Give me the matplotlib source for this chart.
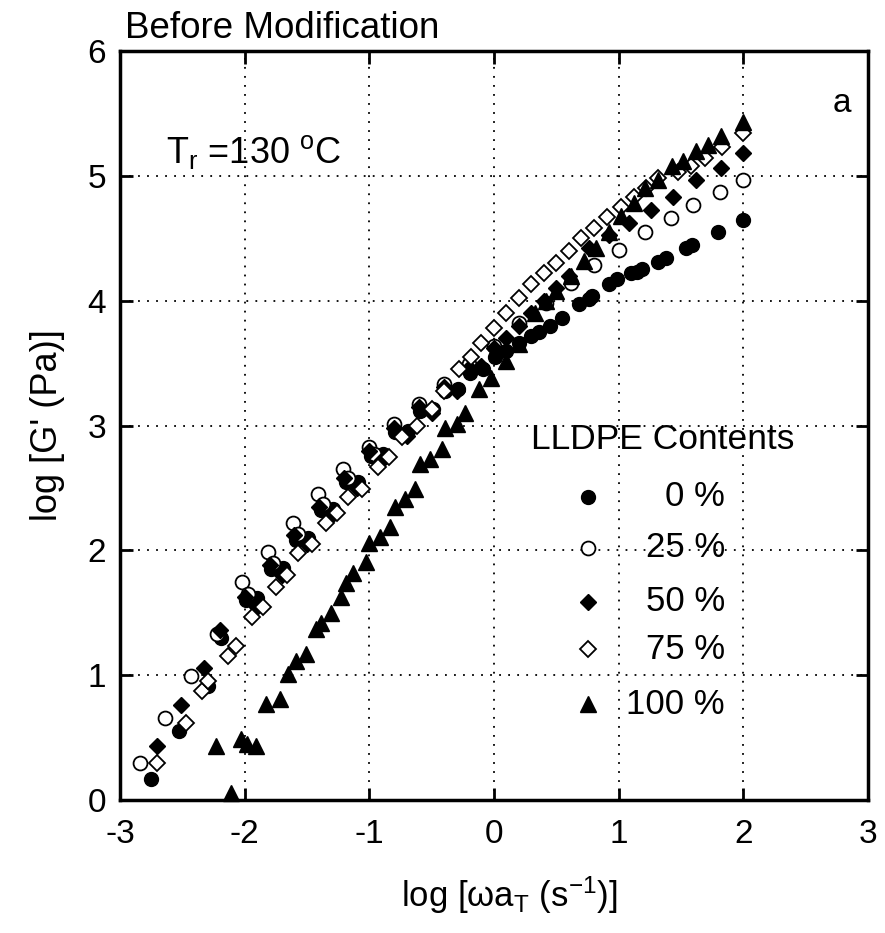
import matplotlib
matplotlib.use("Agg")
import matplotlib.pyplot as plt

plt.rcParams['font.family'] = ['Liberation Sans', 'DejaVu Sans']
plt.rcParams['mathtext.fontset'] = 'custom'
plt.rcParams['mathtext.rm'] = 'Liberation Sans'
plt.rcParams['mathtext.it'] = 'Liberation Sans'
plt.rcParams['axes.unicode_minus'] = False

# ---- data (log omega aT, log G') ----
x0 = [-2.75, -2.53, -2.29, -2.19, -1.99, -1.9, -1.79, -1.69, -1.59, -1.49, -1.39, -1.29,
      -1.19, -1.09, -0.99, -0.89, -0.79, -0.69, -0.59, -0.49, -0.39, -0.29, -0.19, -0.09,
      0.01, 0.1, 0.2, 0.3, 0.36, 0.45, 0.55, 0.68, 0.76, 0.79, 0.92, 0.99, 1.10, 1.15,
      1.19, 1.32, 1.38, 1.54, 1.59, 1.80, 2.0]
y0 = [0.17, 0.55, 0.91, 1.30, 1.60, 1.62, 1.85, 1.86, 2.08, 2.10, 2.32, 2.33,
      2.55, 2.55, 2.76, 2.77, 2.95, 2.96, 3.12, 3.13, 3.28, 3.29, 3.42, 3.45,
      3.55, 3.60, 3.66, 3.72, 3.75, 3.80, 3.86, 3.97, 4.01, 4.04, 4.13, 4.17, 4.22, 4.23,
      4.25, 4.31, 4.34, 4.42, 4.45, 4.55, 4.65]

x25 = [-2.84, -2.64, -2.43, -2.22, -2.02, -1.97, -1.81, -1.77, -1.61, -1.57, -1.41, -1.37,
       -1.21, -1.17, -1.0, -0.96, -0.8, -0.6, -0.4, -0.2, 0.0, 0.2, 0.42, 0.62, 0.8, 1.0,
       1.21, 1.42, 1.6, 1.81, 2.0]
y25 = [0.30, 0.66, 0.99, 1.33, 1.75, 1.65, 1.99, 1.90, 2.22, 2.13, 2.45, 2.37,
       2.65, 2.58, 2.83, 2.77, 3.01, 3.17, 3.33, 3.49, 3.64, 3.82, 3.98, 4.14, 4.29, 4.41,
       4.55, 4.66, 4.77, 4.87, 4.97]

x50 = [-2.70, -2.51, -2.33, -2.2, -2.0, -1.9, -1.8, -1.7, -1.6, -1.5, -1.4, -1.3, -1.2,
       -1.1, -1.0, -0.9, -0.8, -0.7, -0.6, -0.5, -0.4, -0.3, -0.2, -0.1, 0.0, 0.1, 0.2,
       0.3, 0.4, 0.5, 0.6, 0.76, 0.92, 1.08, 1.26, 1.44, 1.62, 1.82, 2.0]
y50 = [0.43, 0.76, 1.06, 1.36, 1.63, 1.55, 1.88, 1.80, 2.12, 2.05, 2.35, 2.28, 2.58,
       2.50, 2.80, 2.72, 2.98, 2.92, 3.15, 3.10, 3.31, 3.28, 3.46, 3.48, 3.62, 3.70, 3.80,
       3.90, 4.00, 4.10, 4.20, 4.42, 4.53, 4.62, 4.73, 4.83, 4.97, 5.06, 5.18]

x75 = [-2.70, -2.47, -2.34, -2.29, -2.13, -2.07, -1.94, -1.85, -1.75, -1.66, -1.57, -1.46,
       -1.35, -1.26, -1.17, -1.06, -0.93, -0.84, -0.74, -0.62, -0.5, -0.4, -0.28, -0.18,
       -0.1, 0.0, 0.1, 0.2, 0.3, 0.4, 0.5, 0.6, 0.7, 0.8, 0.91, 1.02, 1.12, 1.22, 1.32,
       1.48, 1.58, 1.69, 1.83, 2.0]
y75 = [0.30, 0.62, 0.87, 0.95, 1.15, 1.23, 1.47, 1.55, 1.71, 1.80, 1.98, 2.05,
       2.22, 2.30, 2.43, 2.49, 2.67, 2.75, 2.91, 3.00, 3.13, 3.28, 3.45, 3.55,
       3.66, 3.78, 3.90, 4.02, 4.13, 4.22, 4.30, 4.40, 4.50, 4.58, 4.67, 4.75, 4.83, 4.90,
       4.98, 5.03, 5.08, 5.14, 5.23, 5.34]

x100 = [-2.11, -2.23, -2.03, -1.98, -1.91, -1.83, -1.72, -1.65, -1.59, -1.51, -1.43, -1.39,
        -1.31, -1.23, -1.19, -1.13, -1.03, -1.0, -0.91, -0.83, -0.79, -0.71, -0.63, -0.59,
        -0.51, -0.42, -0.39, -0.30, -0.23, -0.12, -0.02, 0.1, 0.2, 0.33, 0.42, 0.5, 0.62,
        0.72, 0.82, 0.92, 1.02, 1.12, 1.21, 1.32, 1.43, 1.52, 1.62, 1.72, 1.82, 2.0]
y100 = [0.06, 0.43, 0.49, 0.45, 0.43, 0.77, 0.81, 1.01, 1.11, 1.17, 1.37, 1.42,
        1.50, 1.63, 1.74, 1.82, 1.91, 2.06, 2.11, 2.19, 2.35, 2.41, 2.49, 2.69,
        2.73, 2.81, 2.98, 3.01, 3.10, 3.29, 3.38, 3.52, 3.65, 3.90, 4.00, 4.08, 4.20,
        4.32, 4.42, 4.55, 4.68, 4.78, 4.90, 4.97, 5.08, 5.12, 5.20, 5.25, 5.32, 5.43]

legend_labels = ["0 %", "25 %", "50 %", "75 %", "100 %"]

fig = plt.figure(figsize=(8.85, 9.33), dpi=100)
ax = fig.add_axes([0.1356, 0.1425, 0.845, 0.8028])

styles = [
    (x0, y0, dict(marker='o', mfc='black', mec='black', ms=10)),
    (x25, y25, dict(marker='o', mfc='white', mec='black', ms=10, mew=1.3)),
    (x50, y50, dict(marker='D', mfc='black', mec='black', ms=8.5)),
    (x75, y75, dict(marker='D', mfc='white', mec='black', ms=8.5, mew=1.3)),
    (x100, y100, dict(marker='^', mfc='black', mec='black', ms=11)),
]
for xs, ys, st in styles:
    ax.plot(xs, ys, ls='none', clip_on=False, zorder=3, **st)

ax.set_xlim(-3, 3)
ax.set_ylim(0, 6)
ax.set_xticks(range(-3, 4))
ax.set_yticks(range(0, 7))
ax.grid(True, color='black', linestyle=(0, (1, 4)), linewidth=1.3)
ax.tick_params(direction='in', length=9, width=2, labelsize=24, pad=10,
               top=True, right=True, colors='black')
ax.tick_params(axis='x', pad=14)
for sp in ax.spines.values():
    sp.set_linewidth(2.5)

ax.set_xlabel(r"log [ωa$_\mathregular{T}$ (s$^\mathregular{-1}$)]", fontsize=25, labelpad=20)
ax.xaxis.set_label_coords(0.52, -0.1)
ax.set_ylabel("log [G' (Pa)]", fontsize=26, labelpad=16)

fig.text(0.141, 0.951, "Before Modification", fontsize=26.5, ha='left', va='bottom')
ax.text(0.965, 0.93, "a", transform=ax.transAxes, fontsize=24, ha='center', va='center')
ax.text(0.062, 0.865, r"T$_\mathregular{r}$ =130 $^\mathregular{o}$C", transform=ax.transAxes,
        fontsize=26, ha='left', va='center')

# legend drawn manually
ax.text(0.55, 0.481, "LLDPE Contents", transform=ax.transAxes, fontsize=25.5,
        ha='left', va='center')
leg_y = [0.405, 0.337, 0.265, 0.201, 0.128]
for (xs, ys, st), lab, ly in zip(styles, legend_labels, leg_y):
    ax.plot([0.626], [ly], transform=ax.transAxes, ls='none', zorder=4, **st)
    ax.text(0.809, ly, lab, transform=ax.transAxes, fontsize=25, ha='right', va='center')

fig.savefig("out.png", dpi=100)
